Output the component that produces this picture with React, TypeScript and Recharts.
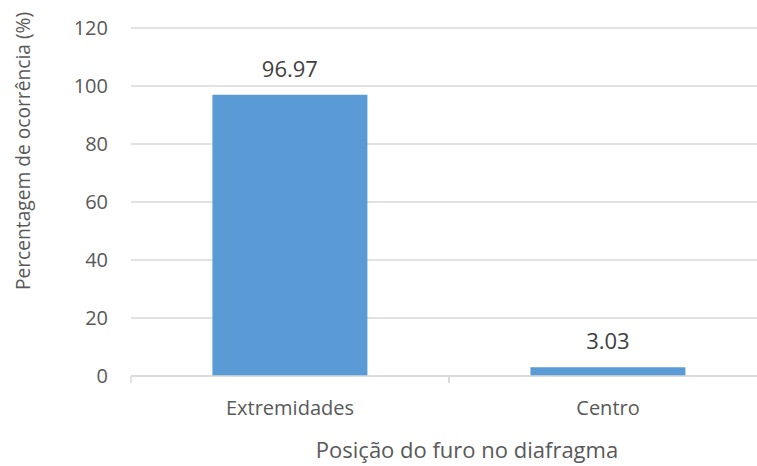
import React from 'react';
import {
  BarChart,
  Bar,
  XAxis,
  YAxis,
  CartesianGrid,
  LabelList,
} from 'recharts';

const categories = ['Extremidades', 'Centro'];
const percentages = [96.97, 3.03];
const yTicks = [0, 20, 40, 60, 80, 100, 120];

const data = categories.map((name, i) => ({ name, value: percentages[i] }));

const FONT = '"Open Sans", "Noto Sans", sans-serif';

// category label plus the small divider mark Excel puts between categories
const CategoryTick = (props: any) => {
  const { x, y, payload } = props;
  const half = payload && payload.offset ? payload.offset : 159;
  const axisY = y - 8;
  return (
    <g>
      <line x1={x - half} y1={axisY} x2={x - half} y2={axisY + 7} stroke="#d9d9d9" strokeWidth={1.5} />
      <line x1={x + half} y1={axisY} x2={x + half} y2={axisY + 7} stroke="#d9d9d9" strokeWidth={1.5} />
      <text x={x} y={axisY + 39} textAnchor="middle" fill="#595959" fontSize={20} fontFamily={FONT}>
        {payload.value}
      </text>
    </g>
  );
};

const YTitle = () => (
  <text
    x={22}
    y={151}
    transform="rotate(-90 22 151)"
    textAnchor="middle"
    dominantBaseline="central"
    fill="#595959"
    fontSize={19.2}
    fontFamily={FONT}
  >
    Percentagem de ocorrência (%)
  </text>
);

const XTitle = () => (
  <text x={467} y={458} textAnchor="middle" fill="#595959" fontSize={22} fontFamily={FONT}>
    Posição do furo no diafragma
  </text>
);

export default function App() {
  return (
    <div
      style={{
        position: 'fixed',
        left: 0,
        top: 0,
        width: 757,
        height: 466,
        overflow: 'hidden',
        background: '#fff',
      }}
    >
      <BarChart
        width={770}
        height={466}
        data={data}
        margin={{ top: 28, right: 3, bottom: 60, left: 0 }}
        barCategoryGap="25.6%"
      >
        <CartesianGrid horizontal vertical={false} stroke="#d9d9d9" strokeWidth={1.5} />
        <XAxis
          dataKey="name"
          height={30}
          axisLine={{ stroke: '#d9d9d9', strokeWidth: 1.5 }}
          tickLine={false}
          tick={<CategoryTick />}
          interval={0}
          label={<XTitle />}
        />
        <YAxis
          width={131}
          domain={[0, 120]}
          ticks={yTicks}
          axisLine={false}
          tickLine={false}
          tickMargin={17}
          tick={{ fill: '#595959', fontSize: 20, fontFamily: FONT }}
          label={<YTitle />}
        />
        <Bar dataKey="value" fill="#5b9bd5" isAnimationActive={false}>
          <LabelList
            dataKey="value"
            position="top"
            offset={18}
            fill="#404040"
            fontSize={22}
            fontFamily={FONT}
          />
        </Bar>
      </BarChart>
    </div>
  );
}
